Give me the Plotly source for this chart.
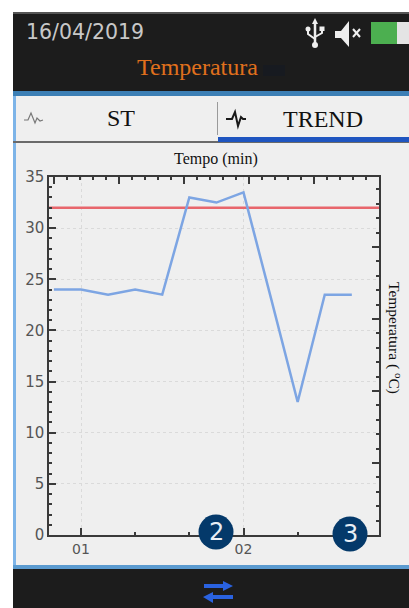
import plotly.graph_objects as go

# ---- data ----
time_min = [5/6, 1.0, 7/6, 8/6, 9/6, 10/6, 11/6, 2.0, 13/6, 14/6, 15/6, 16/6]
temperature = [24, 24, 23.5, 24, 23.5, 33, 32.5, 33.5, 23.3, 13, 23.5, 23.5]
threshold = [32, 32]
x_tick_vals = [1, 2]
x_tick_text = ["01", "02"]
y_tick_vals = [0, 5, 10, 15, 20, 25, 30, 35]

W, H = 409, 608
PL, PR, PT, PB = 49, 379, 177, 535
xr = [1 - (81 - PL) / 162.5, 1 + (PR - 81) / 162.5]
yr = [0, 35]

def px(x): return x / W
def py(y): return 1 - y / H

def rect(x0, y0, x1, y1, color, layer="below"):
    return dict(type="rect", xref="paper", yref="paper", x0=px(x0), x1=px(x1), y0=py(y0), y1=py(y1),
                fillcolor=color, line=dict(width=0), layer=layer)

def poly(points, line=None, fill=None, width=1.5, closed=False):
    d = "M" + " L".join(f"{px(a):.5f},{py(b):.5f}" for a, b in points) + (" Z" if closed else "")
    return dict(type="path", xref="paper", yref="paper", path=d,
                fillcolor=fill if fill else "rgba(0,0,0,0)",
                line=dict(color=line if line else "rgba(0,0,0,0)", width=width if line else 0), layer="above")

def circle(cx, cy, r, color):
    return dict(type="circle", xref="paper", yref="paper", x0=px(cx-r), x1=px(cx+r), y0=py(cy-r), y1=py(cy+r),
                fillcolor=color, line=dict(width=0), layer="above")

fig = go.Figure()
fig.add_trace(go.Scatter(x=xr, y=threshold, mode="lines", line=dict(color="#e8666c", width=2.5),
                         hoverinfo="skip", showlegend=False, cliponaxis=False))
fig.add_trace(go.Scatter(x=time_min, y=temperature, mode="lines", line=dict(color="#7da5e3", width=2.5),
                         showlegend=False))
# carrier for the secondary (top/right) axes
fig.add_trace(go.Scatter(x=[xr[0]], y=[0], xaxis="x2", yaxis="y2", mode="markers",
                         marker=dict(opacity=0), hoverinfo="skip", showlegend=False))

shapes = [
    rect(13, 13, W, H, "#efefef"),
    rect(13, 13, 16, 565, "#7db4e8"),
    rect(13, 13, W, 91, "#1c1c1c"),
    rect(13, 12, W, 14, "#555555"),
    rect(13, 91, W, 96, "#3c7fb5"),
    rect(13, 141, W, 143, "#6a6a6a"),
    rect(218, 137, W, 142, "#1f55c0"),
    rect(217, 102, 218, 135, "#9a9a9a"),
    rect(13, 565, W, 569, "#5b9bd0"),
    rect(13, 569, W, H, "#1c1c1c"),
    rect(263, 65, 285, 76, "#171a20"),
    # battery
    rect(371, 22, 397, 44, "#4caf50", "above"),
    rect(397, 22, W, 44, "#e4e4e4", "above"),
    # speaker
    poly([(335, 31), (341, 31), (349, 21), (349, 47), (341, 38), (335, 38)], fill="#eeeeee", closed=True),
    poly([(353, 29), (360, 37)], line="#eeeeee", width=2),
    poly([(360, 29), (353, 37)], line="#eeeeee", width=2),
    # usb
    poly([(315, 22), (315, 46)], line="#eeeeee", width=2.5),
    poly([(312, 24), (315, 18), (318, 24)], fill="#eeeeee", closed=True),
    poly([(308, 29), (308, 34), (315, 39)], line="#eeeeee", width=2),
    poly([(322, 29), (322, 33), (315, 37)], line="#eeeeee", width=2),
    circle(308, 29, 2.5, "#eeeeee"),
    rect(319.5, 26.5, 324.5, 31, "#eeeeee", "above"),
    circle(315, 45, 3, "#eeeeee"),
    # tab icons
    poly([(24, 120), (28, 120), (31, 113), (35, 123), (37, 118), (40, 121), (43, 120)], line="#777777", width=1.2),
    poly([(226, 119), (232, 119), (235, 112), (238, 126), (241, 117), (243, 119), (246, 119)], line="#1a1a1a", width=2),
    # numbered markers
    circle(216, 532, 17.5, "#04396a"),
    circle(350, 534, 17.5, "#04396a"),
    # swap arrows
    poly([(204, 586), (226, 586)], line="#2a62e0", width=4),
    poly([(223, 581), (233, 586), (223, 591)], fill="#2a62e0", closed=True),
    poly([(211, 597), (233, 597)], line="#2a62e0", width=4),
    poly([(213, 592), (203, 597), (213, 603)], fill="#2a62e0", closed=True),
]

def note(x, y, text, size, color, font="Liberation Serif", angle=0, xanchor="center"):
    return dict(x=px(x), y=py(y), xref="paper", yref="paper", text=text, showarrow=False, textangle=angle,
                font=dict(family=font, size=size, color=color), xanchor=xanchor, yanchor="middle")

annotations = [
    note(24, 32, "16/04/2019", 20.5, "#c8c8c8", "DejaVu Sans", xanchor="left"),
    note(197, 67, "Temperatura", 24, "#e0701c"),
    note(121, 118, "ST", 24, "#111111"),
    note(323, 119, "TREND", 24, "#111111"),
    note(216, 159, "Tempo (min)", 16, "#111111"),
    note(395, 338, "Temperatura ( <sup>o</sup>C)", 15.5, "#111111", angle=90),
    note(216, 532, "2", 24, "#e8eef5", "DejaVu Sans"),
    note(350, 534, "3", 24, "#e8eef5", "DejaVu Sans"),
]

axis_line = dict(showline=True, linecolor="#3a3a3a", linewidth=1.5, zeroline=False, automargin=False)
fig.update_layout(
    width=W, height=H, margin=dict(l=0, r=0, t=0, b=0), autosize=False,
    paper_bgcolor="#ffffff", plot_bgcolor="rgba(0,0,0,0)",
    shapes=shapes, annotations=annotations, showlegend=False,
    xaxis=dict(domain=[px(PL), px(PR)], range=xr, tickmode="array", tickvals=x_tick_vals, ticktext=x_tick_text,
               ticks="inside", ticklen=7, tickwidth=1.5, tickcolor="#3a3a3a", anchor="y",
               tickfont=dict(family="DejaVu Sans", size=14, color="#555555"),
               showgrid=True, gridcolor="#dadada", griddash="dot", gridwidth=1,
               minor=dict(ticks="inside", ticklen=3, tickwidth=1.5, tickcolor="#3a3a3a", dtick=1/3, tick0=1, showgrid=False),
               **axis_line),
    yaxis=dict(domain=[py(PB), py(PT)], range=yr, tickmode="array", tickvals=y_tick_vals, anchor="x",
               ticks="inside", ticklen=7, tickwidth=1.5, tickcolor="#3a3a3a",
               tickfont=dict(family="DejaVu Sans", size=15, color="#555555"),
               showgrid=True, gridcolor="#dadada", griddash="dot", gridwidth=1,
               minor=dict(ticks="inside", ticklen=3, tickwidth=1.5, tickcolor="#3a3a3a", dtick=1, tick0=0, showgrid=False),
               **axis_line),
    xaxis2=dict(domain=[px(PL), px(PR)], range=[0, PR - PL], overlaying="x", side="top", anchor="y2",
                tick0=5, dtick=65, ticks="inside", ticklen=7, tickwidth=1.5, tickcolor="#3a3a3a",
                showticklabels=False, showgrid=False,
                minor=dict(ticks="inside", ticklen=3, tickwidth=1.5, tickcolor="#3a3a3a", dtick=13, tick0=5, showgrid=False),
                **axis_line),
    yaxis2=dict(domain=[py(PB), py(PT)], range=[0, PB - PT], overlaying="y", side="right", anchor="x2",
                tick0=0, dtick=72, ticks="inside", ticklen=7, tickwidth=1.5, tickcolor="#3a3a3a",
                showticklabels=False, showgrid=False,
                minor=dict(ticks="inside", ticklen=3, tickwidth=1.5, tickcolor="#3a3a3a", dtick=14.4, tick0=0, showgrid=False),
                **axis_line),
)
fig.write_html("out.html", config=dict(displayModeBar=False),
               post_script="document.body.style.margin='0';document.body.style.overflow='hidden';")
